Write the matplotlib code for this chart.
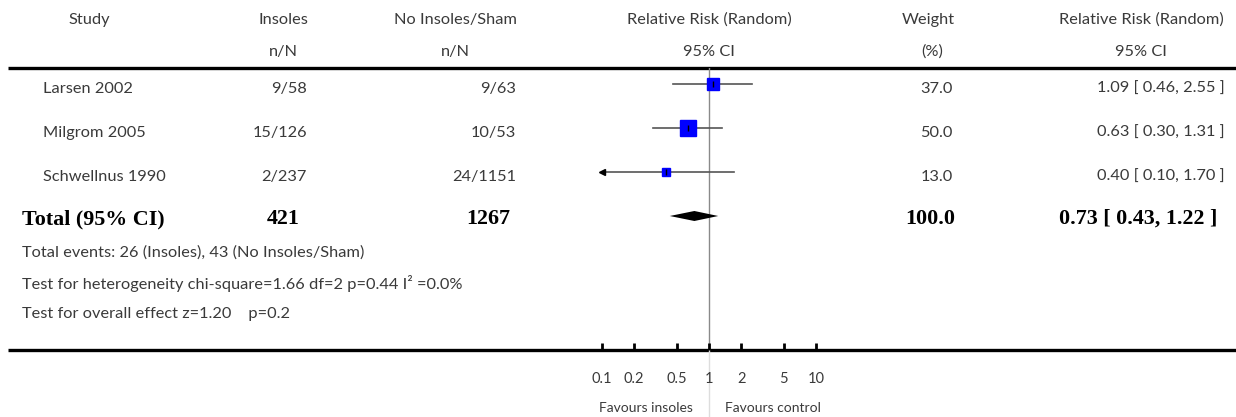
import matplotlib
matplotlib.use('Agg')
import matplotlib.pyplot as plt
import numpy as np

# study data
studies = ['Larsen 2002', 'Milgrom 2005', 'Schwellnus 1990']
insoles_nN = ['9/58', '15/126', '2/237']
control_nN = ['9/63', '10/53', '24/1151']
rr = [1.09, 0.63, 0.40]
rr_low = [0.46, 0.30, 0.10]
rr_high = [2.55, 1.31, 1.70]
weights = [37.0, 50.0, 13.0]

# pooled result
total_insoles = '421'
total_control = '1267'
total_rr = 0.73
total_low = 0.43
total_high = 1.22
total_weight = 100.0

footnotes = ['Total events: 26 (Insoles), 43 (No Insoles/Sham)',
             'Test for heterogeneity chi-square=1.66 df=2 p=0.44 I\u00b2 =0.0%',
             'Test for overall effect z=1.20    p=0.2']

tick_vals = [0.1, 0.2, 0.5, 1, 2, 5, 10]
tick_labels = ['0.1', '0.2', '0.5', '1', '2', '5', '10']

W, H = 1236, 417
plt.rcParams['font.family'] = ['Lato', 'DejaVu Sans']
txt = '#3a3a3a'
serif = 'Liberation Serif'
fs = 11.8
bfs = 15.8

fig = plt.figure(figsize=(W / 100, H / 100), dpi=100)

# whole-figure axes in pixel coordinates for the table text and rules
ax0 = fig.add_axes([0, 0, 1, 1])
ax0.set_xlim(0, W)
ax0.set_ylim(H, 0)
ax0.axis('off')

# headers
ax0.text(89, 20, 'Study', ha='center', va='center', fontsize=fs, color=txt)
ax0.text(283, 20, 'Insoles', ha='center', va='center', fontsize=fs, color=txt)
ax0.text(283, 52, 'n/N', ha='center', va='center', fontsize=fs, color=txt)
ax0.text(455, 20, 'No Insoles/Sham', ha='center', va='center', fontsize=fs, color=txt)
ax0.text(455, 52, 'n/N', ha='center', va='center', fontsize=fs, color=txt)
ax0.text(709, 20, 'Relative Risk (Random)', ha='center', va='center', fontsize=fs, color=txt)
ax0.text(709, 52, '95% CI', ha='center', va='center', fontsize=fs, color=txt)
ax0.text(928, 20, 'Weight', ha='center', va='center', fontsize=fs, color=txt)
ax0.text(932, 52, '(%)', ha='center', va='center', fontsize=fs, color=txt)
ax0.text(1141, 20, 'Relative Risk (Random)', ha='center', va='center', fontsize=fs, color=txt)
ax0.text(1141, 52, '95% CI', ha='center', va='center', fontsize=fs, color=txt)

# rules
ax0.plot([8, W], [68, 68], color='black', lw=2.4, solid_capstyle='butt')
ax0.plot([8, W], [350, 350], color='black', lw=2.4, solid_capstyle='butt')

# study rows
row_y = [84 + 44 * i for i in range(len(studies))]
for i, y in enumerate(row_y):
    ty = y + 5
    ax0.text(43, ty, studies[i], ha='left', va='center', fontsize=fs, color=txt)
    ax0.text(307, ty, insoles_nN[i], ha='right', va='center', fontsize=fs, color=txt)
    ax0.text(516, ty, control_nN[i], ha='right', va='center', fontsize=fs, color=txt)
    ax0.text(953, ty, '%.1f' % weights[i], ha='right', va='center', fontsize=fs, color=txt)
    ax0.text(1225, ty, '%.2f [ %.2f, %.2f ]' % (rr[i], rr_low[i], rr_high[i]),
             ha='right', va='center', fontsize=fs, color=txt)

# total row
tot_y = 216
bold = dict(va='center', fontsize=bfs, fontweight='bold', family=serif, color='black')
ax0.text(22, tot_y + 3, 'Total (95% CI)', ha='left', **bold)
ax0.text(300, tot_y + 3, total_insoles, ha='right', **bold)
ax0.text(510, tot_y + 3, total_control, ha='right', **bold)
ax0.text(955, tot_y + 3, '%.1f' % total_weight, ha='right', **bold)
ax0.text(1217, tot_y + 3, '%.2f [ %.2f, %.2f ]' % (total_rr, total_low, total_high),
         ha='right', **bold)

# footnotes
for j, line in enumerate(footnotes):
    ax0.text(22, 253 + 30.5 * j, line, ha='left', va='center', fontsize=fs, color=txt)

# forest plot axes, log scale, y in the same pixel rows
x_left, x_right = 602, 816
y_top, y_bot = 68, 350
ax = fig.add_axes([x_left / W, (H - y_bot) / H, (x_right - x_left) / W, (y_bot - y_top) / H])
ax.set_xscale('log')
ax.set_xlim(0.1, 10)
ax.set_ylim(y_bot, y_top)
ax.patch.set_visible(False)
for s in ax.spines.values():
    s.set_visible(False)
ax.set_yticks([])
ax.set_xticks(tick_vals)
ax.set_xticklabels(tick_labels)
ax.minorticks_off()
ax.tick_params(axis='x', direction='in', length=5, width=2, color='black',
               pad=15.5, labelsize=10.5, labelcolor=txt)

# line of no effect
ax.plot([1, 1], [y_top, y_bot], color='#8a8a8a', lw=1, zorder=1)
ax.plot([1, 1], [y_bot, H], color='#dddddd', lw=1, clip_on=False, zorder=1)

for i, y in enumerate(row_y):
    lo = max(rr_low[i], 0.1)
    ax.plot([lo, rr_high[i]], [y, y], color='#555555', lw=1.2, zorder=2)
    if rr_low[i] <= 0.1:
        ax.plot([0.1], [y], marker='<', ms=4, color='black', clip_on=False, zorder=3)
    ax.plot([rr[i]], [y], marker='s', ms=2.13 * np.sqrt(weights[i]) * 0.72,
            color='#0000ff', mec='#0000ff', lw=0, zorder=3)
    ax.plot([rr[i]], [y], marker='|', ms=5, color='black', mew=1, zorder=4)

# pooled diamond
ax.fill([total_low, total_rr, total_high, total_rr],
        [tot_y, tot_y - 5, tot_y, tot_y + 5], color='black', lw=0, zorder=3)

ax.text(0.71, 408, 'Favours insoles', ha='right', va='center', fontsize=10, color=txt)
ax.text(1.41, 408, 'Favours control', ha='left', va='center', fontsize=10, color=txt)

fig.savefig('out.png', dpi=100)
